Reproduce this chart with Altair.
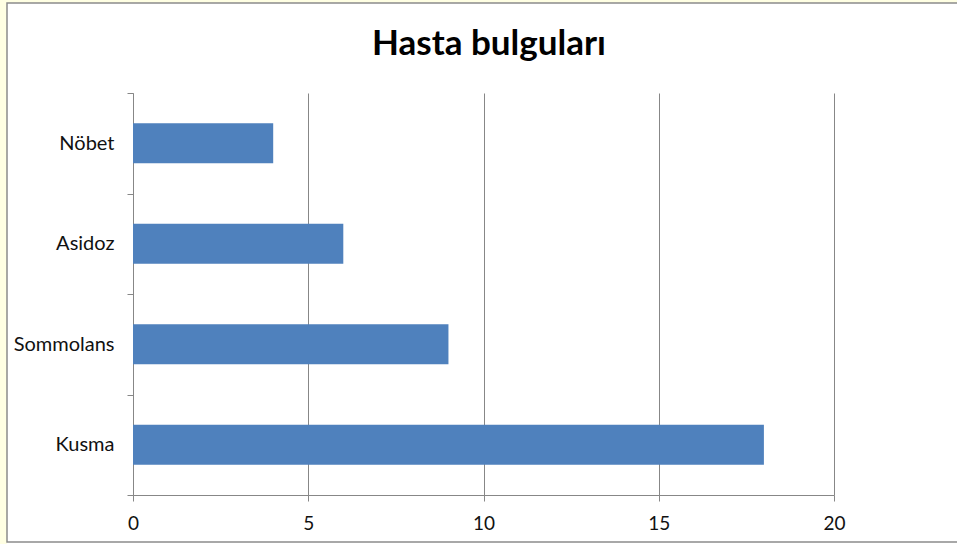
import altair as alt
import pandas as pd

categories = ["Nöbet", "Asidoz", "Sommolans", "Kusma"]
values = [4, 6, 9, 18]
x_ticks = [0, 5, 10, 15, 20]
title_text = "Hasta bulguları"

df = pd.DataFrame({"bulgu": categories, "sayi": values})

FONT = "Lato"
GRID = "#878787"
YELLOW = "#FFFFE3"
TEXT = "#111111"

one = pd.DataFrame({"k": [0]})

# decorative chart-area frame (light yellow strips + gray border)
strip_left = alt.Chart(one).mark_rect(fill=YELLOW).encode(
    x=alt.value(-133), x2=alt.value(-126), y=alt.value(-93), y2=alt.value(451)
)
strip_top = alt.Chart(one).mark_rect(fill=YELLOW).encode(
    x=alt.value(-133), x2=alt.value(824), y=alt.value(-93), y2=alt.value(-90)
)
frame = alt.Chart(one).mark_rect(
    fill=None, fillOpacity=0, stroke="#8c8c8c", strokeWidth=1.5
).encode(
    x=alt.value(-126), x2=alt.value(840), y=alt.value(-90), y2=alt.value(449)
)

title = alt.Chart(one).mark_text(
    text=title_text, font=FONT, fontSize=35, fontWeight="bold",
    color="black", align="center", baseline="alphabetic",
).encode(x=alt.value(356), y=alt.value(-38))

bars = alt.Chart(df).mark_bar(color="#4F81BD", size=40).encode(
    x=alt.X(
        "sayi:Q",
        scale=alt.Scale(domain=[0, 20], nice=False),
        axis=alt.Axis(
            values=x_ticks, title=None, grid=True, gridColor=GRID, gridWidth=1,
            domainColor=GRID, domainWidth=1, tickColor=GRID, tickSize=6,
            labelFont=FONT, labelFontSize=19, labelColor=TEXT, labelPadding=13,
            labelFlush=False,
        ),
    ),
    y=alt.Y(
        "bulgu:N",
        sort=categories,
        scale=alt.Scale(paddingInner=0, paddingOuter=0),
        axis=alt.Axis(
            title=None, grid=False, tickBand="extent", domainColor=GRID,
            domainWidth=1, tickColor=GRID, tickSize=6, labelFont=FONT,
            labelFontSize=20, labelColor=TEXT, labelPadding=13,
        ),
    ),
)

chart = alt.layer(strip_left, strip_top, frame, title, bars).properties(
    width=701,
    height=402,
    autosize=alt.AutoSizeParams(type="none"),
    padding={"left": 133, "top": 93, "right": 123, "bottom": 49},
).configure(background="white").configure_view(stroke=None)

chart.save("out.html", embed_options={"renderer": "svg", "actions": False})
